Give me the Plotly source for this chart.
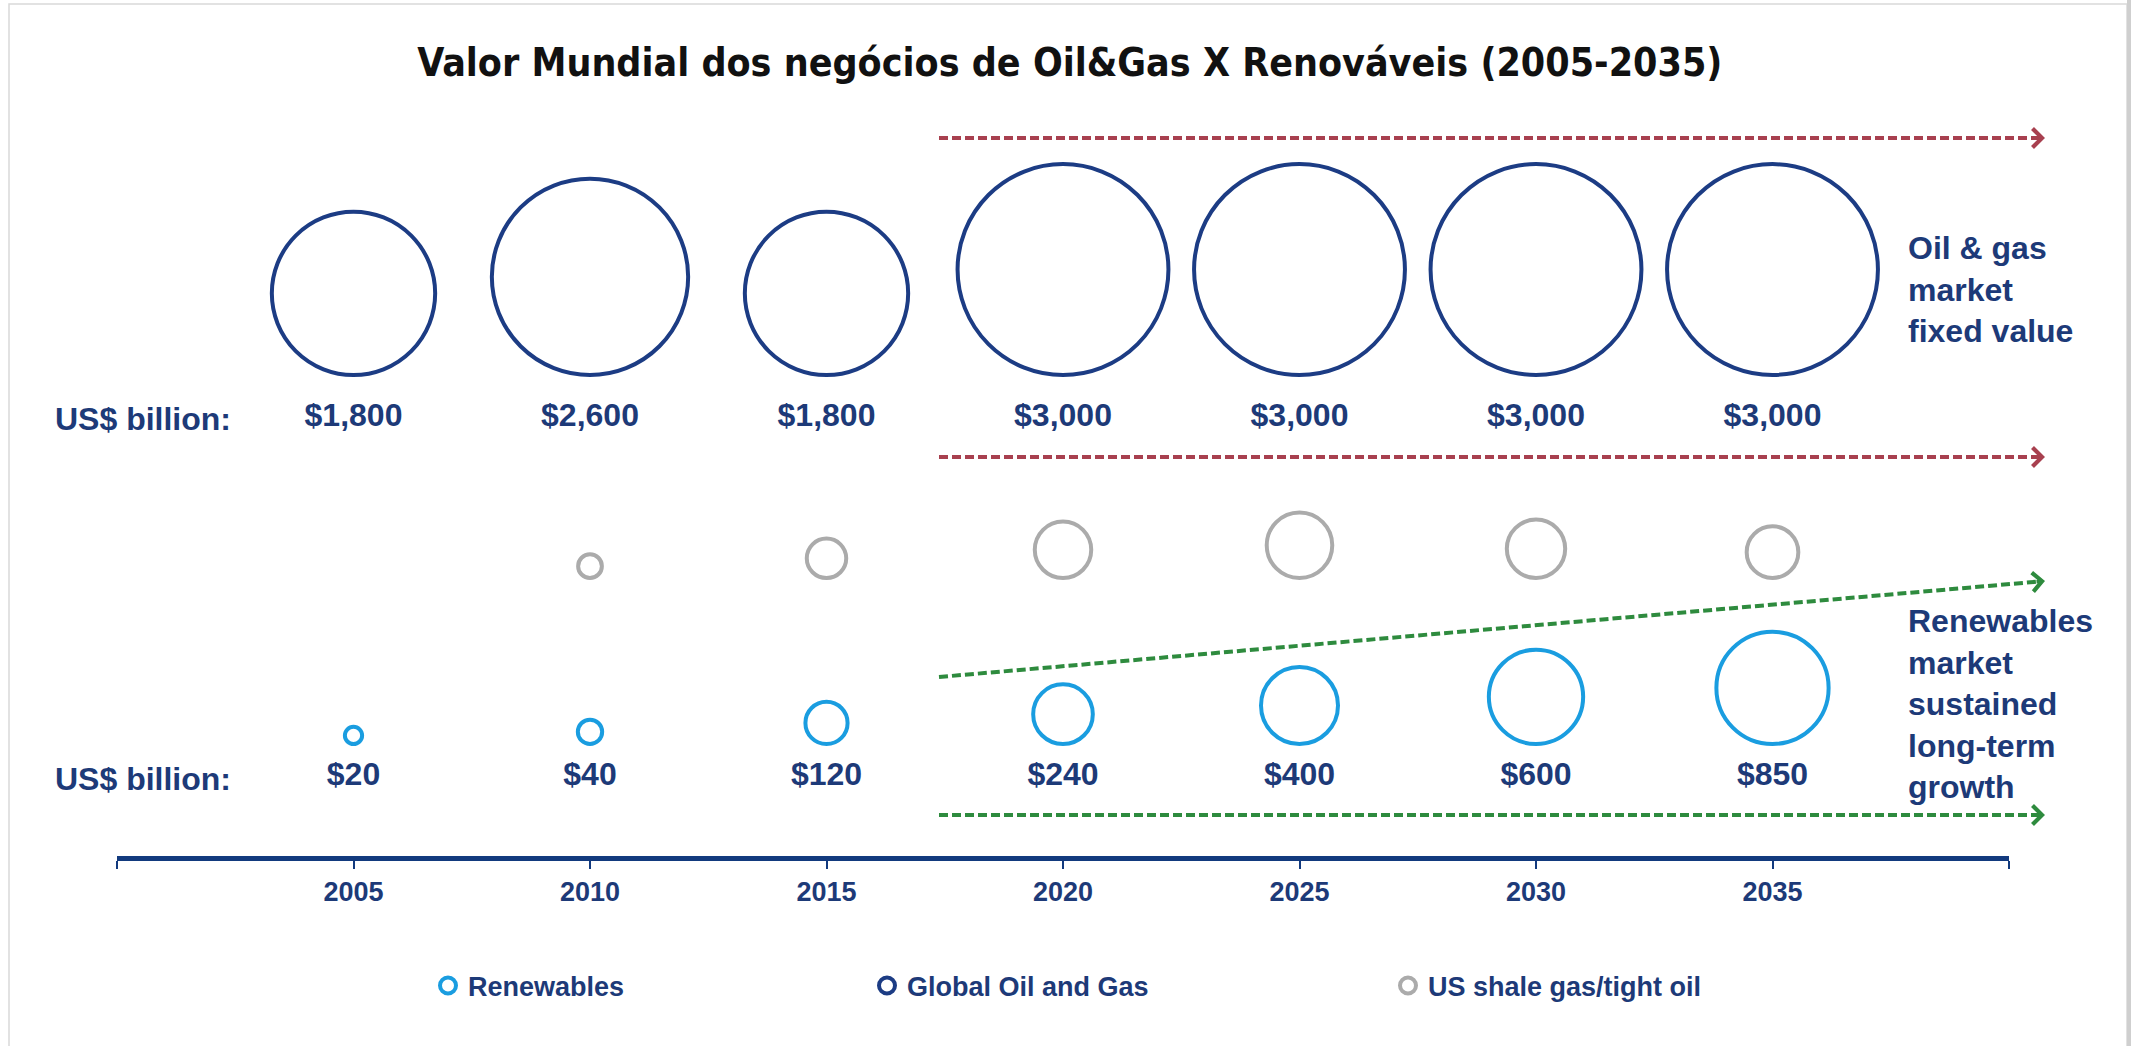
import math
import plotly.graph_objects as go

# ---------------- data ----------------
years = [2005, 2010, 2015, 2020, 2025, 2030, 2035]
oil_gas = [1800, 2600, 1800, 3000, 3000, 3000, 3000]          # US$ billion
renewables = [20, 40, 120, 240, 400, 600, 850]               # US$ billion
shale = [None, 38, 105, 215, 290, 230, 180]                  # unlabelled
tick_years = [2000, 2005, 2010, 2015, 2020, 2025, 2030, 2035, 2040]
tick_text = ["", "2005", "2010", "2015", "2020", "2025", "2030", "2035", ""]

title_text = "Valor Mundial dos negócios de Oil&Gas X Renováveis (2005-2035)"
row_label = "US$ billion:"
oil_note = "Oil & gas<br>market<br>fixed value"
ren_note = "Renewables<br>market<br>sustained<br>long-term<br>growth"
name_ren = "Renewables"
name_oil = "Global Oil and Gas"
name_shale = "US shale gas/tight oil"

# ---------------- styling / geometry ----------------
FIG_W, FIG_H = 2131, 1046
M_L, M_R, M_T, M_B = 117, 122, 100, 190
PLOT_W = FIG_W - M_L - M_R
PLOT_H = FIG_H - M_T - M_B
AXIS_PX = FIG_H - M_B

NAVY = "#1d3a78"
OIL_C = "#1c3c84"
REN_C = "#1a9de0"
SHALE_C = "#ababab"
RED_C = "#a8404f"
GREEN_C = "#2e8b3e"
AXIS_C = "#123a7e"
FONT = "Liberation Sans, Arial, sans-serif"

K = 3.85     # px of diameter per sqrt(US$ bn)
LW = 4

OIL_BASE, SHALE_BASE, REN_BASE = 479, 276, 110   # bottom of bubble rows (px above axis)
OIL_LABEL_Y, REN_LABEL_Y = 438, 79


def diam(v):
    return None if v is None else K * math.sqrt(v)


def cy(base, v):
    return None if v is None else base + (diam(v) + LW) / 2


def px2x(px):
    return (px - M_L) / PLOT_W


def py2y(py):
    return (AXIS_PX - py) / PLOT_H


fig = go.Figure()


def bubbles(vals, base, color, name, legend):
    fig.add_trace(go.Scatter(
        x=years, y=[cy(base, v) for v in vals], mode="markers", name=name,
        legend=legend, hoverinfo="skip",
        marker=dict(symbol="circle", size=[diam(v) if v else 0 for v in vals], opacity=1,
                    color="rgba(0,0,0,0)", line=dict(color=color, width=LW)),
    ))


bubbles(renewables, REN_BASE, REN_C, name_ren, "legend")
bubbles(oil_gas, OIL_BASE, OIL_C, name_oil, "legend2")
bubbles(shale, SHALE_BASE, SHALE_C, name_shale, "legend3")

label_font = dict(family=FONT, size=32, color=NAVY, weight="bold")
fig.add_trace(go.Scatter(x=years, y=[OIL_LABEL_Y] * len(years), mode="text",
                         text=[f"${v:,}" for v in oil_gas], textfont=label_font,
                         showlegend=False, hoverinfo="skip"))
fig.add_trace(go.Scatter(x=years, y=[REN_LABEL_Y] * len(years), mode="text",
                         text=[f"${v:,}" for v in renewables], textfont=label_font,
                         showlegend=False, hoverinfo="skip"))

# ---------------- dashed arrows ----------------
arrows = [
    ((939, 138), (2045, 138), RED_C),
    ((939, 457), (2045, 457), RED_C),
    ((939, 677), (2045, 581), GREEN_C),
    ((939, 815), (2045, 815), GREEN_C),
]
shapes = []
annotations = []
for (x0, y0), (x1, y1), col in arrows:
    dx, dy = x1 - x0, y1 - y0
    ln = math.hypot(dx, dy)
    ux, uy = dx / ln, dy / ln
    shapes.append(dict(type="line", xref="paper", yref="paper",
                       x0=px2x(x0), y0=py2y(y0), x1=px2x(x1 - 6 * ux), y1=py2y(y1 - 6 * uy),
                       line=dict(color=col, width=4, dash="9px,4px")))
    annotations.append(dict(xref="paper", yref="paper", x=px2x(x1), y=py2y(y1),
                            ax=-10 * ux, ay=-10 * uy, showarrow=True, arrowhead=4,
                            arrowsize=1.05, arrowwidth=3.5, arrowcolor=col, standoff=0, text=""))

# frame
shapes.append(dict(type="rect", xref="paper", yref="paper",
                   x0=px2x(9), x1=px2x(2127), y0=py2y(1060), y1=py2y(4),
                   line=dict(color="#d9d9d9", width=1.5), fillcolor="rgba(0,0,0,0)", layer="below"))
shapes.append(dict(type="rect", xref="paper", yref="paper",
                   x0=px2x(2127), x1=px2x(2135), y0=py2y(1060), y1=py2y(0),
                   line=dict(width=0), fillcolor="#cfcfcf", layer="below"))

txt_font = dict(family=FONT, size=32, color=NAVY, weight="bold")
annotations += [
    dict(xref="paper", yref="paper", x=px2x(53), y=py2y(419), text=row_label,
         showarrow=False, xanchor="left", yanchor="middle", font=txt_font),
    dict(xref="paper", yref="paper", x=px2x(53), y=py2y(779), text=row_label,
         showarrow=False, xanchor="left", yanchor="middle", font=txt_font),
    dict(xref="paper", yref="paper", x=px2x(1906), y=py2y(289), text=oil_note,
         showarrow=False, xanchor="left", yanchor="middle", align="left", font=txt_font),
    dict(xref="paper", yref="paper", x=px2x(1906), y=py2y(704), text=ren_note,
         showarrow=False, xanchor="left", yanchor="middle", align="left", font=txt_font),
]

leg_common = dict(orientation="h", yanchor="middle", xanchor="left", y=py2y(986),
                  bgcolor="rgba(0,0,0,0)", itemsizing="trace",
                  font=dict(family=FONT, size=27, color=NAVY, weight="bold"))

fig.update_layout(
    width=FIG_W, height=FIG_H,
    margin=dict(l=M_L, r=M_R, t=M_T, b=M_B, pad=0),
    paper_bgcolor="white", plot_bgcolor="white",
    title=dict(text=title_text, x=0.502, xanchor="center", y=1 - 62 / FIG_H, yanchor="middle",
               font=dict(family="DejaVu Sans Condensed, DejaVu Sans, sans-serif", size=39,
                         color="#111111", weight="bold")),
    xaxis=dict(range=[2000, 2040], tickvals=tick_years, ticktext=tick_text,
               showline=True, linecolor=AXIS_C, linewidth=5, ticks="outside",
               ticklen=8, tickwidth=2, tickcolor=AXIS_C, showgrid=False, zeroline=False,
               tickfont=dict(family=FONT, size=27, color=NAVY, weight="bold"),
               fixedrange=True),
    yaxis=dict(range=[0, PLOT_H], visible=False, fixedrange=True),
    shapes=shapes, annotations=annotations,
    legend=dict(x=px2x(428), **leg_common),
    legend2=dict(x=px2x(867), **leg_common),
    legend3=dict(x=px2x(1388), **leg_common),
)

fig.write_html("out.html", config={"displayModeBar": False},
               post_script="document.body.style.margin='0';document.body.style.overflow='hidden';")
